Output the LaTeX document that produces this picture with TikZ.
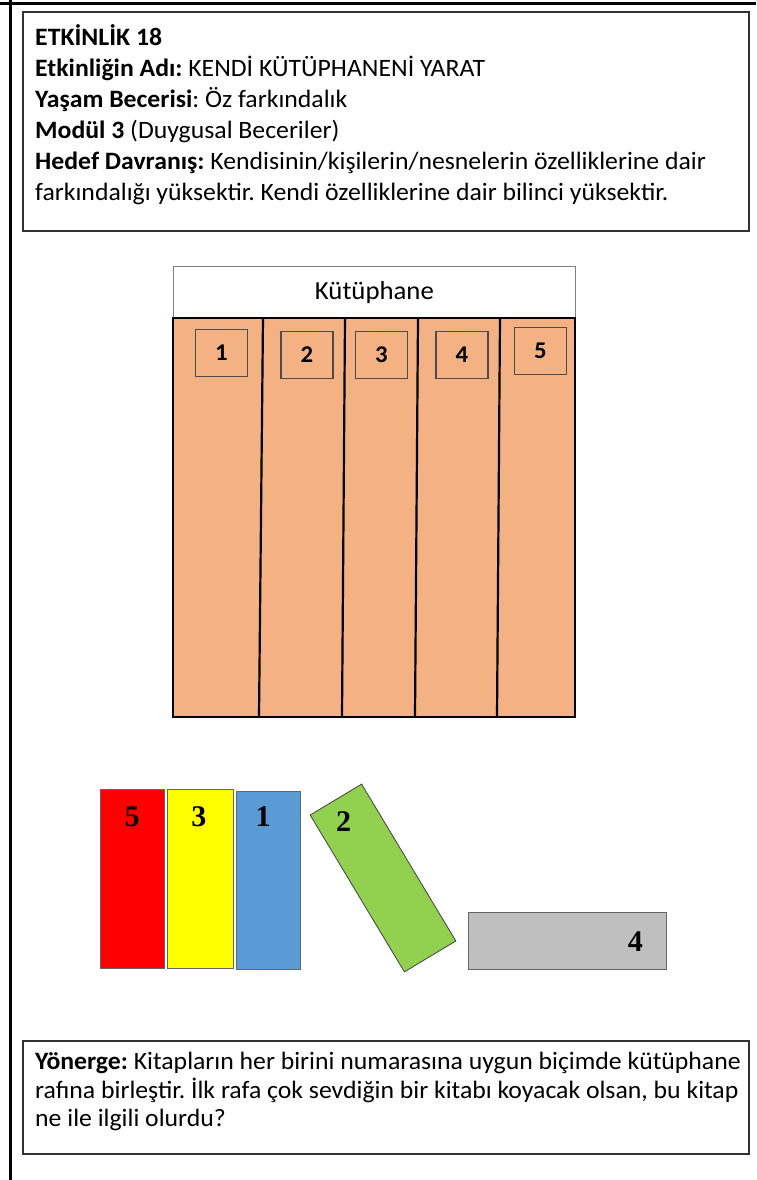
\documentclass[tikz,border=0pt]{standalone}
\usepackage{fontspec}
\setmainfont{Carlito}[FakeStretch=1.03]
\newfontfamily\numfont{Liberation Serif}
\usetikzlibrary{positioning,calc}
\frenchspacing

\definecolor{shelforange}{HTML}{F4B183}
\definecolor{bookred}{HTML}{FF0000}
\definecolor{bookyellow}{HTML}{FFFF00}
\definecolor{bookblue}{HTML}{5B9BD5}
\definecolor{bookgreen}{HTML}{92D050}
\definecolor{bookgray}{HTML}{BFBFBF}

\begin{document}
\begin{tikzpicture}[x=1pt, y=-1pt,
  framebox/.style={draw=black!80, line width=1.6pt, anchor=north west, minimum width=726pt},
  infotext/.style={anchor=north west, align=left, inner sep=0pt},
  shelfnum/.style={draw=black!70, line width=1.1pt, minimum width=52pt, minimum height=47pt, font=\fontsize{24}{24}\selectfont\bfseries},
  divider/.style={line width=2.2pt},
  book/.style={draw=black!60, line width=0.8pt, inner sep=0pt},
  booknum/.style={font=\numfont\fontsize{30}{30}\selectfont\bfseries, inner sep=0pt},
]
  \useasboundingbox (0,0) rectangle (756,1180);

  % Page frame
  \draw[line width=3pt] (0,3.5) -- (756,3.5);
  \draw[line width=3pt] (10,0) -- (10,1180);

  % Header
  \node[framebox, minimum height=219pt] (header) at (22,11) {};
  \node[infotext, font=\fontsize{25}{31}\selectfont] (headertext) at ($(header.north west)+(13,13)$) {%
    \textbf{ETKİNLİK 18}\\
    \textbf{Etkinliğin Adı:} KENDİ KÜTÜPHANENİ YARAT\\
    \textbf{Yaşam Becerisi}: Öz farkındalık\\
    \textbf{Modül 3} (Duygusal Beceriler)\\
    \textbf{Hedef Davranış:} Kendisinin/kişilerin/nesnelerin özelliklerine dair\\
    farkındalığı yüksektir. Kendi özelliklerine dair bilinci yüksektir.};

  % Library
  \node[draw=black!50, line width=0.8pt, anchor=north west, minimum width=402pt, minimum height=52pt,
        font=\fontsize{26}{26}\selectfont] (title) at (173,266) {Kütüphane};
  \draw[line width=2.6pt, fill=shelforange] (173,318) rectangle (575,717);
  \foreach \a/\b in {263/259, 345/342, 418/415, 500/497}
    \draw[divider] (\a,318) -- (\b,717);
  \foreach \i/\x/\y in {1/221.5/353, 2/307/355, 3/381.5/355, 4/462/355, 5/540.5/351}
    \node[shelfnum] (slot\i) at (\x,\y) {\i};

  % Books
  \node[book, fill=bookred, minimum width=64pt, minimum height=179pt] (red) at (132,878.5) {};
  \node[book, fill=bookyellow, minimum width=66pt, minimum height=179pt, right=3pt of red] (yellow) {};
  \node[book, fill=bookblue, minimum width=64pt, minimum height=178pt] (blue) at (268,880) {};
  \node[book, fill=bookgreen, minimum width=60pt, minimum height=183pt, rotate=31, draw=black!75] (green) at (383,878) {};
  \node[book, fill=bookgray, minimum width=198pt, minimum height=57pt] (gray) at (567,940.5) {};

  \node[booknum] (num5) at ($(red.north)+(0,28)$) {5};
  \node[booknum] (num3) at ($(yellow.north)+(-2,28)$) {3};
  \node[booknum] (num1) at ($(blue.north)+(-5,26)$) {1};
  \node[booknum] (num2) at ($(green.north)+(8,22)$) {2};
  \node[booknum] (num4) at ($(gray.east)+(-31,1)$) {4};

  % Instruction
  \node[framebox, minimum height=113pt] (task) at (22,1040) {};
  \node[infotext, font=\fontsize{25}{28.5}\selectfont] (tasktext) at ($(task.north west)+(13,12)$) {%
    \textbf{Yönerge:} Kitapların her birini numarasına uygun biçimde kütüphane\\
    rafına birleştir. İlk rafa çok sevdiğin bir kitabı koyacak olsan, bu kitap\\
    ne ile ilgili olurdu?};
\end{tikzpicture}
\end{document}
